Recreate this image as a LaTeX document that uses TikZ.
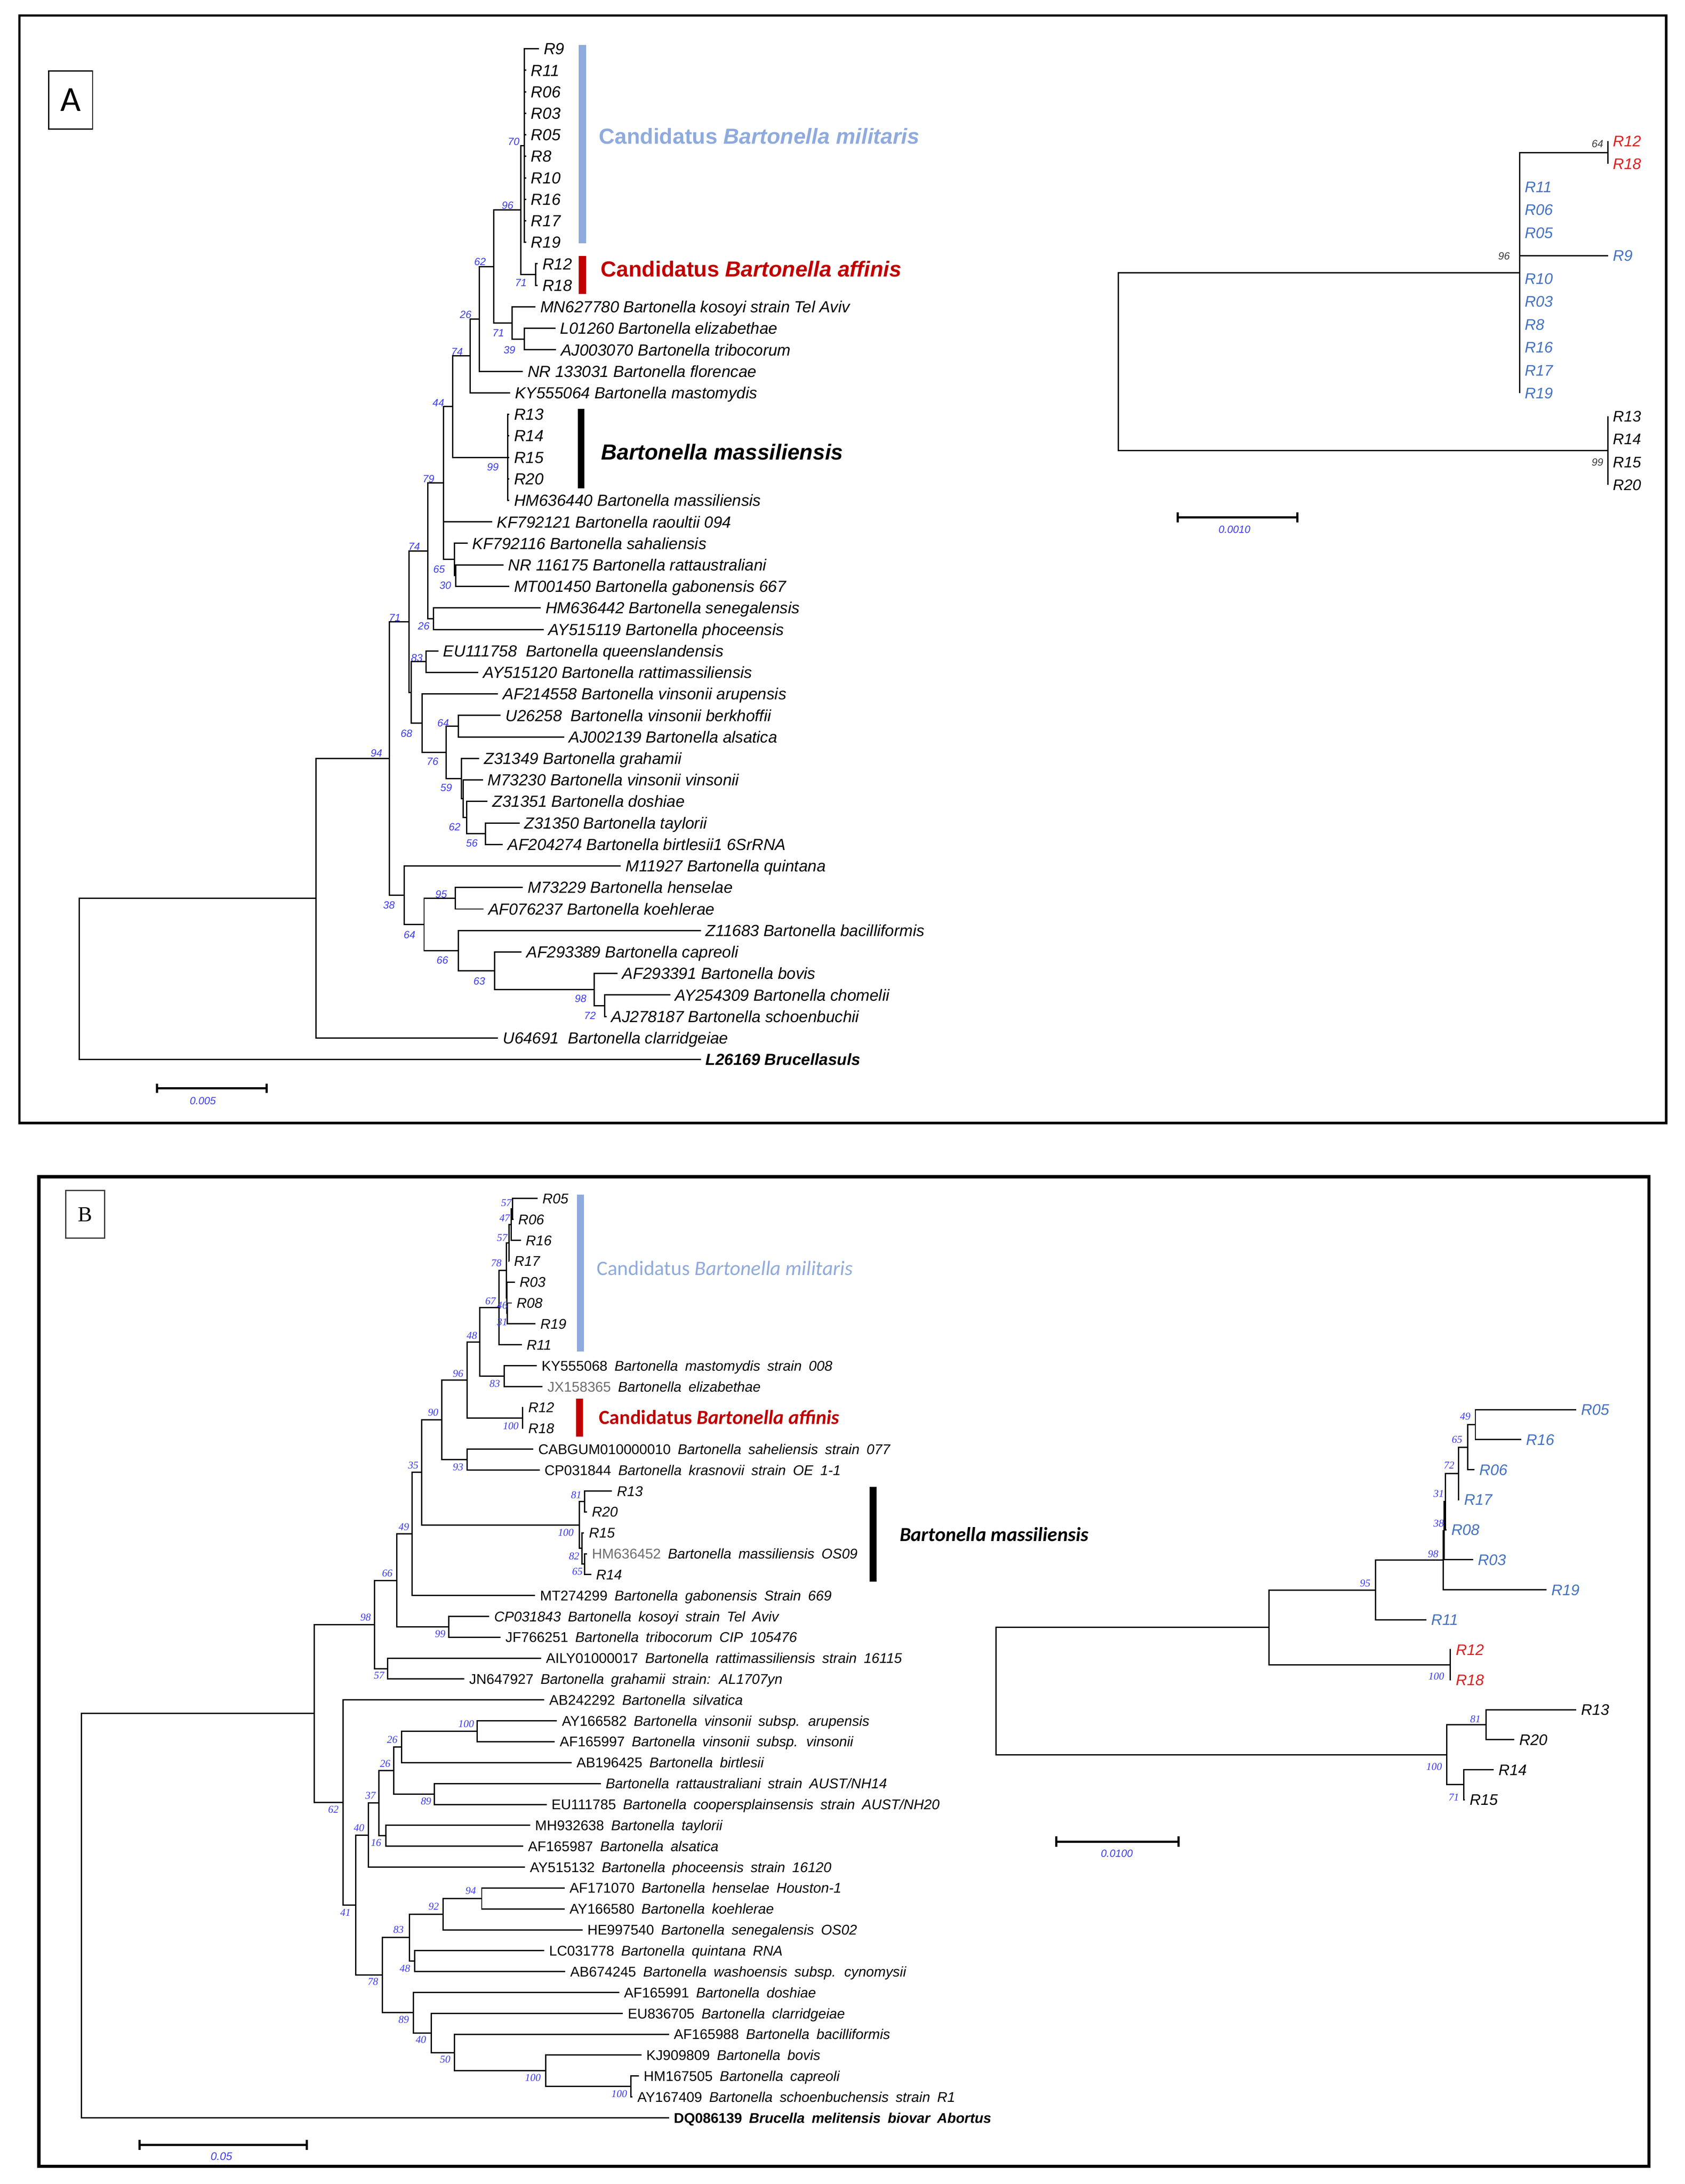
\documentclass[tikz,border=0pt]{standalone}
\usepackage{fontspec}
\setmainfont{Liberation Sans}
\newfontfamily\carl{Carlito}
\newfontfamily\lserif{Liberation Serif}
\newfontfamily\widesans[WordSpace=1.8]{Liberation Sans}
\definecolor{bsblue}{RGB}{60,60,250}
\definecolor{milblue}{RGB}{143,170,220}
\definecolor{affred}{RGB}{192,0,0}
\definecolor{rblue}{RGB}{68,114,196}
\definecolor{rred}{RGB}{225,30,30}
\definecolor{accgray}{RGB}{110,110,110}
\definecolor{bsgray}{RGB}{60,60,60}
\begin{document}
\begin{tikzpicture}[x=0.031855cm,y=-0.031855cm,
  tree/.style={line width=0.85pt,black},
  sbar/.style={line width=1.4pt,black},
  lfA/.style={anchor=west,inner xsep=3pt,inner ysep=0pt,text height=7.5pt,text depth=0pt,font=\fontsize{10.5}{12}\selectfont\itshape},
  lfR/.style={anchor=west,inner xsep=3pt,inner ysep=0pt,text height=7.2pt,text depth=0pt,font=\fontsize{10}{12}\selectfont\itshape},
  lfB/.style={anchor=west,inner xsep=3pt,inner ysep=0pt,text height=6.6pt,text depth=0pt,font=\widesans\fontsize{9.2}{11}\selectfont},
  lfBi/.style={lfB,font=\widesans\fontsize{9.2}{11}\selectfont\itshape},
  bsA/.style={inner sep=0pt,text height=4.9pt,text depth=0pt,font=\fontsize{6.8}{7}\selectfont\itshape,text=bsblue},
  bsB/.style={inner sep=0pt,text height=4.6pt,text depth=0pt,font=\lserif\fontsize{6.8}{7}\selectfont\itshape,text=bsblue},
  cladeA/.style={anchor=west,inner sep=0pt,text height=10.2pt,text depth=0pt,font=\fontsize{14.2}{16}\selectfont\bfseries},
  cladeB/.style={anchor=west,inner sep=0pt,text height=8.6pt,text depth=0pt,font=\carl\fontsize{13.4}{15}\selectfont}
]
\useasboundingbox (0,0) rectangle (1213,1572.1);
% ===== frames =====
\draw[line width=1.5pt] (14,11.2) rectangle (1199.5,808.4);
\draw[line width=2.1pt] (28,847) rectangle (1187,1559.3);
\node[draw,line width=0.7pt,minimum width=28.6pt,minimum height=37.9pt,inner sep=0pt,font=\carl\fontsize{23}{24}\selectfont] (labA) at (50.85,72) {A};
\node[draw=black!75,line width=0.9pt,minimum width=25.4pt,minimum height=31pt,inner sep=0pt,font=\lserif\fontsize{14}{15}\selectfont] (labB) at (61.25,874.15) {B};

% ===== Panel A left tree =====
\coordinate (aR) at (57,704.6);
\coordinate (aB) at (227.5,646.55);
\coordinate (a94) at (280.2,545.9);
\coordinate (a71) at (294.5,447.45);
\coordinate (a74b) at (308.0,396.5);
\coordinate (a79) at (319.2,347.7);
\coordinate (a44) at (325.9,292.7);
\coordinate (a74) at (338.6,256.2);
\coordinate (a26) at (345.1,229.6);
\coordinate (a62) at (355.5,191.85);
\coordinate (a96) at (375.0,151.2);
\coordinate (a70) at (377.6,104.75);
\coordinate (a71r) at (385.5,197.65);
\coordinate (a71k) at (368.5,232.5);
\coordinate (a39) at (377.6,244.05);
\coordinate (a99) at (365.5,329.25);
\coordinate (a65) at (327.3,402.7);
\coordinate (a30) at (328.2,414.35);
\coordinate (a26b) at (312.2,445.35);
\coordinate (aY) at (295.9,498.4);
\coordinate (a83) at (306.6,476.25);
\coordinate (a68) at (303.8,520.55);
\coordinate (a76) at (321.2,541.6);
\coordinate (a64) at (330.1,522.75);
\coordinate (a59) at (332.2,560.4);
\coordinate (aX) at (333.5,574.95);
\coordinate (a62b) at (336.0,588.5);
\coordinate (a56) at (349.4,600.15);
\coordinate (a38) at (291.0,644.35);
\coordinate (a64b) at (305.3,665.4);
\coordinate (a95) at (327.8,646.55);
\coordinate (a66) at (330.0,684.3);
\coordinate (a63) at (356.0,698.8);
\coordinate (a98) at (427.8,712.3);
\coordinate (a72) at (435.3,723.95);

\node[lfA] (A0) at (388.0,35.1) {R9};
\node[lfA] (A1) at (378.8,50.6) {R11};
\node[lfA] (A2) at (378.8,66.1) {R06};
\node[lfA] (A3) at (378.8,81.5) {R03};
\node[lfA] (A4) at (378.8,97.0) {R05};
\node[lfA] (A5) at (378.8,112.5) {R8};
\node[lfA] (A6) at (378.8,128.0) {R10};
\node[lfA] (A7) at (378.8,143.5) {R16};
\node[lfA] (A8) at (378.8,158.9) {R17};
\node[lfA] (A9) at (378.8,174.4) {R19};
\node[lfA] (A10) at (387.0,189.9) {R12};
\node[lfA] (A11) at (387.0,205.4) {R18};
\node[lfA] (A12) at (385.5,220.9) {MN627780 Bartonella kosoyi strain Tel Aviv};
\node[lfA] (A13) at (399.8,236.3) {L01260 Bartonella elizabethae};
\node[lfA] (A14) at (400.3,251.8) {AJ003070 Bartonella tribocorum};
\node[lfA] (A15) at (376.3,267.3) {NR 133031 Bartonella florencae};
\node[lfA] (A16) at (367.2,282.8) {KY555064 Bartonella mastomydis};
\node[lfA] (A17) at (366.6,298.3) {R13};
\node[lfA] (A18) at (366.6,313.7) {R14};
\node[lfA] (A19) at (366.6,329.2) {R15};
\node[lfA] (A20) at (366.6,344.7) {R20};
\node[lfA] (A21) at (366.6,360.2) {HM636440 Bartonella massiliensis};
\node[lfA] (A22) at (354.2,375.7) {KF792121 Bartonella raoultii 094};
\node[lfA] (A23) at (336.6,391.1) {KF792116 Bartonella sahaliensis};
\node[lfA] (A24) at (362.4,406.6) {NR 116175 Bartonella rattaustraliani};
\node[lfA] (A25) at (366.6,422.1) {MT001450 Bartonella gabonensis 667};
\node[lfA] (A26) at (389.3,437.6) {HM636442 Bartonella senegalensis};
\node[lfA] (A27) at (391.3,453.1) {AY515119 Bartonella phoceensis};
\node[lfA] (A28) at (315.6,468.5) {EU111758\ \ Bartonella queenslandensis};
\node[lfA] (A29) at (344.4,484.0) {AY515120 Bartonella rattimassiliensis};
\node[lfA] (A30) at (358.5,499.5) {AF214558 Bartonella vinsonii arupensis};
\node[lfA] (A31) at (360.4,515.0) {U26258\ \ Bartonella vinsonii berkhoffii};
\node[lfA] (A32) at (406.1,530.5) {AJ002139 Bartonella alsatica};
\node[lfA] (A33) at (345.0,545.9) {Z31349 Bartonella grahamii};
\node[lfA] (A34) at (347.6,561.4) {M73230 Bartonella vinsonii vinsonii};
\node[lfA] (A35) at (351.0,576.9) {Z31351 Bartonella doshiae};
\node[lfA] (A36) at (374.0,592.4) {Z31350 Bartonella taylorii};
\node[lfA] (A37) at (362.0,607.9) {AF204274 Bartonella birtlesii1 6SrRNA};
\node[lfA] (A38) at (446.9,623.3) {M11927 Bartonella quintana};
\node[lfA] (A39) at (376.5,638.8) {M73229 Bartonella henselae};
\node[lfA] (A40) at (348.0,654.3) {AF076237 Bartonella koehlerae};
\node[lfA] (A41) at (504.5,669.8) {Z11683 Bartonella bacilliformis};
\node[lfA] (A42) at (375.5,685.3) {AF293389 Bartonella capreoli};
\node[lfA] (A43) at (444.5,700.7) {AF293391 Bartonella bovis};
\node[lfA] (A44) at (482.5,716.2) {AY254309 Bartonella chomelii};
\node[lfA] (A45) at (436.6,731.7) {AJ278187 Bartonella schoenbuchii};
\node[lfA] (A46) at (358.5,747.2) {U64691\ \ Bartonella clarridgeiae};
\node[lfA,font=\fontsize{10.5}{12}\selectfont\bfseries\itshape] (A47) at (504.5,762.7) {L26169 Brucellasuls};

\foreach \p/\c in {aR/aB,aR/A47.west,aB/a94,aB/A46.west,a94/a71,a94/a38,a71/a74b,a71/aY,
  a74b/a79,a74b/a26b,a79/a44,a79/A22.west,a79/a65,a44/a74,a44/a99,a74/a26,a74/A16.west,
  a26/a62,a26/A15.west,a62/a96,a62/a71k,a96/a70,a96/a71r,
  a70/A0.west,a70/A1.west,a70/A2.west,a70/A3.west,a70/A4.west,a70/A5.west,a70/A6.west,a70/A7.west,a70/A8.west,a70/A9.west,
  a71r/A10.west,a71r/A11.west,a71k/A12.west,a71k/a39,a39/A13.west,a39/A14.west,
  a99/A17.west,a99/A18.west,a99/A19.west,a99/A20.west,a99/A21.west,
  a65/A23.west,a65/a30,a30/A24.west,a30/A25.west,a26b/A26.west,a26b/A27.west,
  aY/a83,aY/a68,a83/A28.west,a83/A29.west,a68/A30.west,a68/a76,a76/a64,a76/a59,
  a64/A31.west,a64/A32.west,a59/A33.west,a59/aX,aX/A34.west,aX/a62b,a62b/A35.west,a62b/a56,
  a56/A36.west,a56/A37.west,a38/A38.west,a38/a64b,a64b/a95,a64b/a66,a95/A39.west,a95/A40.west,
  a66/A41.west,a66/a63,a63/A42.west,a63/a98,a98/A43.west,a98/a72,a72/A44.west,a72/A45.west}
  \draw[tree] (\p) |- (\c);

\foreach \x/\y/\t [count=\k] in {369.8/101.7/70,365.4/147.7/96,345.6/188.2/62,375/203.5/71,335.2/226.4/26,
  358.7/239.6/71,366.7/251.7/39,329/253/74,315.6/290/44,354.8/336.2/99,308.5/344.7/79,298.2/393.3/74,
  316.1/409.5/65,320.6/421.3/30,284.2/444.7/71,305/450.4/26,300.1/473.5/83,319/520.4/64,292.6/527.9/68,
  271/542/94,311.4/548/76,321.2/567/59,327.3/595.3/62,339.7/606.7/56,317.6/643.7/95,280/651.5/38,
  294.8/672.8/64,318.5/691/66,345/706/63,418/718.6/98,424.7/731/72}
  \node[bsA] (bsa\k) at (\x,\y) {\t};

% clade marks panel A
\fill[milblue] (416.7,32.3) rectangle (421.9,175.0);
\fill[affred] (416.7,184.3) rectangle (421.9,211.5);
\fill[black] (415.9,294.2) rectangle (420.7,351.5);
\node[cladeA,text=milblue] (cA1) at (431,98.1) {Candidatus \textit{Bartonella militaris}};
\node[cladeA,text=affred] (cA2) at (432.3,193.6) {Candidatus \textit{Bartonella affinis}};
\node[cladeA,text=black] (cA3) at (432.7,325.4) {\textit{Bartonella massiliensis}};

% scale bar A left
\coordinate (sa1) at (112.9,783.5);
\coordinate (sa2) at (192,783.5);
\draw[sbar] (sa1) -- (sa2);
\draw[sbar] (sa1) ++(0,-3.3) -- ++(0,6.6);
\draw[sbar] (sa2) ++(0,-3.3) -- ++(0,6.6);
\node[bsA] (sla) at (146,792.3) {0.005};

% ===== Panel A right tree =====
\coordinate (rA) at (805,260.3);
\coordinate (r96) at (1094.1,196.4);
\coordinate (r64) at (1157.6,109.75);
\coordinate (r99) at (1157.6,324.25);
\node[lfR,text=rred] (RA0) at (1157.6,101.5) {R12};
\node[lfR,text=rred] (RA1) at (1157.6,118) {R18};
\node[lfR,text=rblue] (RA2) at (1094.1,134.5) {R11};
\node[lfR,text=rblue] (RA3) at (1094.1,151) {R06};
\node[lfR,text=rblue] (RA4) at (1094.1,167.5) {R05};
\node[lfR,text=rblue] (RA5) at (1157.6,184) {R9};
\node[lfR,text=rblue] (RA6) at (1094.1,200.5) {R10};
\node[lfR,text=rblue] (RA7) at (1094.1,217) {R03};
\node[lfR,text=rblue] (RA8) at (1094.1,233.5) {R8};
\node[lfR,text=rblue] (RA9) at (1094.1,250) {R16};
\node[lfR,text=rblue] (RA10) at (1094.1,266.5) {R17};
\node[lfR,text=rblue] (RA11) at (1094.1,283) {R19};
\node[lfR] (RA12) at (1157.6,299.5) {R13};
\node[lfR] (RA13) at (1157.6,316) {R14};
\node[lfR] (RA14) at (1157.6,332.5) {R15};
\node[lfR] (RA15) at (1157.6,349) {R20};
\foreach \p/\c in {rA/r96,rA/r99,r96/r64,r96/RA2.west,r96/RA3.west,r96/RA4.west,r96/RA5.west,
  r96/RA6.west,r96/RA7.west,r96/RA8.west,r96/RA9.west,r96/RA10.west,r96/RA11.west,
  r64/RA0.west,r64/RA1.west,r99/RA12.west,r99/RA13.west,r99/RA14.west,r99/RA15.west}
  \draw[tree] (\p) |- (\c);
\node[bsA,text=bsgray] (bsr1) at (1150,103.5) {64};
\node[bsA,text=bsgray] (bsr2) at (1082.7,184.2) {96};
\node[bsA,text=bsgray] (bsr3) at (1150,332.7) {99};
\coordinate (sr1) at (847.7,372.4);
\coordinate (sr2) at (934.1,372.4);
\draw[sbar] (sr1) -- (sr2);
\draw[sbar] (sr1) ++(0,-3.7) -- ++(0,7.4);
\draw[sbar] (sr2) ++(0,-3.7) -- ++(0,7.4);
\node[bsA] (slr) at (888.7,381) {0.0010};

% ===== Panel B left tree =====
\coordinate (bR) at (58.5,1378.95);
\coordinate (bX) at (226.3,1233.4);
\coordinate (b98) at (269.7,1169.35);
\coordinate (b66) at (285.6,1137.6);
\coordinate (b49) at (296.7,1104.2);
\coordinate (b35) at (303.6,1059.85);
\coordinate (b90) at (318.1,1022.0);
\coordinate (b96) at (336.3,993.25);
\coordinate (b48) at (345.3,965.9);
\coordinate (b67) at (359.3,941.2);
\coordinate (b78) at (364.5,914.4);
\coordinate (b57b) at (366.3,894.65);
\coordinate (b47) at (368.1,881.5);
\coordinate (b57a) at (369.1,870.2);
\coordinate (b46) at (365.0,934.15);
\coordinate (b31) at (365.3,945.4);
\coordinate (b83) at (363.0,990.55);
\coordinate (b100a) at (376.1,1020.6);
\coordinate (b93) at (336.3,1050.7);
\coordinate (b100b) at (417.2,1097.7);
\coordinate (b81) at (420.8,1080.8);
\coordinate (b82) at (419.0,1114.6);
\coordinate (b65) at (420.8,1125.9);
\coordinate (b99) at (323.2,1171.0);
\coordinate (b57) at (279.0,1201.1);
\coordinate (b62) at (246.9,1297.5);
\coordinate (b41) at (256.1,1371.35);
\coordinate (b40a) at (265.3,1320.95);
\coordinate (b37) at (272.7,1297.9);
\coordinate (b26b) at (283.5,1274.4);
\coordinate (b26a) at (289.2,1257.5);
\coordinate (b100c) at (343.6,1246.2);
\coordinate (b89a) at (312.7,1291.35);
\coordinate (b16) at (277.7,1321.4);
\coordinate (b78b) at (275.4,1421.75);
\coordinate (b83b) at (294.7,1394.7);
\coordinate (b92) at (319.1,1377.8);
\coordinate (b94) at (346.8,1366.55);
\coordinate (b48b) at (298.4,1411.65);
\coordinate (b89b) at (297.5,1448.8);
\coordinate (b40b) at (310.4,1463.4);
\coordinate (b50) at (327.0,1477.45);
\coordinate (b100d) at (392.8,1490.6);
\coordinate (b100e) at (454.1,1501.9);

\node[lfBi] (B0) at (387.0,862.7) {R05};
\node[lfBi] (B1) at (369.6,877.7) {R06};
\node[lfBi] (B2) at (375.0,892.8) {R16};
\node[lfBi] (B3) at (366.6,907.8) {R17};
\node[lfBi] (B4) at (370.6,922.9) {R03};
\node[lfBi] (B5) at (368.4,937.9) {R08};
\node[lfBi] (B6) at (385.5,952.9) {R19};
\node[lfBi] (B7) at (375.6,968.0) {R11};
\node[lfB] (B8) at (386.4,983.0) {KY555068 \textit{Bartonella mastomydis strain 008}};
\node[lfB] (B9) at (390.6,998.1) {\textcolor{accgray}{JX158365} \textit{Bartonella elizabethae}};
\node[lfBi] (B10) at (376.8,1013.1) {R12};
\node[lfBi] (B11) at (376.8,1028.1) {R18};
\node[lfB] (B12) at (384.0,1043.2) {CABGUM010000010 \textit{Bartonella saheliensis strain 077}};
\node[lfB] (B13) at (388.5,1058.2) {CP031844 \textit{Bartonella krasnovii strain OE 1-1}};
\node[lfBi] (B14) at (440.6,1073.3) {R13};
\node[lfBi] (B15) at (422.6,1088.3) {R20};
\node[lfBi] (B16) at (420.5,1103.3) {R15};
\node[lfB] (B17) at (422.6,1118.4) {\textcolor{accgray}{HM636452} \textit{Bartonella massiliensis OS09}};
\node[lfBi] (B18) at (425.6,1133.4) {R14};
\node[lfB] (B19) at (385.3,1148.5) {MT274299 \textit{Bartonella gabonensis Strain 669}};
\node[lfBi] (B20) at (352.3,1163.5) {CP031843 Bartonella kosoyi strain Tel Aviv};
\node[lfB] (B21) at (360.4,1178.5) {JF766251 \textit{Bartonella tribocorum CIP 105476}};
\node[lfB] (B22) at (389.5,1193.6) {AILY01000017 \textit{Bartonella rattimassiliensis strain 16115}};
\node[lfB] (B23) at (334.3,1208.6) {JN647927 \textit{Bartonella grahamii strain: AL1707yn}};
\node[lfB] (B24) at (391.9,1223.7) {AB242292 \textit{Bartonella silvatica}};
\node[lfB] (B25) at (401.0,1238.7) {AY166582 \textit{Bartonella vinsonii subsp. arupensis}};
\node[lfB] (B26) at (399.4,1253.7) {AF165997 \textit{Bartonella vinsonii subsp. vinsonii}};
\node[lfB] (B27) at (411.5,1268.8) {AB196425 \textit{Bartonella birtlesii}};
\node[lfBi] (B28) at (432.5,1283.8) {Bartonella rattaustraliani strain AUST/NH14};
\node[lfB] (B29) at (393.5,1298.9) {EU111785 \textit{Bartonella coopersplainsensis strain AUST/NH20}};
\node[lfB] (B30) at (381.7,1313.9) {MH932638 \textit{Bartonella taylorii}};
\node[lfB] (B31) at (376.6,1328.9) {AF165987 \textit{Bartonella alsatica}};
\node[lfB] (B32) at (378.0,1344.0) {AY515132 \textit{Bartonella phoceensis strain 16120}};
\node[lfB] (B33) at (406.5,1359.0) {AF171070 \textit{Bartonella henselae Houston-1}};
\node[lfB] (B34) at (406.5,1374.1) {AY166580 \textit{Bartonella koehlerae}};
\node[lfB] (B35) at (419.4,1389.1) {HE997540 \textit{Bartonella senegalensis OS02}};
\node[lfB] (B36) at (391.8,1404.1) {LC031778 \textit{Bartonella quintana RNA}};
\node[lfB] (B37) at (407.0,1419.2) {AB674245 \textit{Bartonella washoensis subsp. cynomysii}};
\node[lfB] (B38) at (445.7,1434.2) {AF165991 \textit{Bartonella doshiae}};
\node[lfB] (B39) at (448.5,1449.3) {EU836705 \textit{Bartonella clarridgeiae}};
\node[lfB] (B40) at (481.6,1464.3) {AF165988 \textit{Bartonella bacilliformis}};
\node[lfB] (B41) at (461.8,1479.3) {KJ909809 \textit{Bartonella bovis}};
\node[lfB] (B42) at (459.9,1494.4) {HM167505 \textit{Bartonella capreoli}};
\node[lfB] (B43) at (455.3,1509.4) {AY167409 \textit{Bartonella schoenbuchensis strain R1}};
\node[lfB,font=\widesans\fontsize{9.2}{11}\selectfont\bfseries] (B44) at (481.6,1524.5) {DQ086139 \textit{Brucella melitensis biovar Abortus}};

\foreach \p/\c in {bR/bX,bR/B44.west,bX/b98,bX/b62,b98/b66,b98/b57,b66/b49,b66/b99,b49/b35,b49/B19.west,
  b35/b90,b35/b100b,b90/b96,b90/b93,b96/b48,b96/b100a,b48/b67,b48/b83,b67/b78,b67/B7.west,
  b78/b57b,b78/b46,b57b/b47,b57b/B3.west,b47/b57a,b47/B2.west,b57a/B0.west,b57a/B1.west,
  b46/B4.west,b46/b31,b31/B5.west,b31/B6.west,b83/B8.west,b83/B9.west,b100a/B10.west,b100a/B11.west,
  b93/B12.west,b93/B13.west,b100b/b81,b100b/b82,b81/B14.west,b81/B15.west,b82/B16.west,b82/b65,
  b65/B17.west,b65/B18.west,b99/B20.west,b99/B21.west,b57/B22.west,b57/B23.west,
  b62/B24.west,b62/b41,b41/b40a,b41/b78b,b40a/b37,b40a/B32.west,b37/b26b,b37/b16,
  b26b/b26a,b26b/b89a,b26a/b100c,b26a/B27.west,b100c/B25.west,b100c/B26.west,
  b89a/B28.west,b89a/B29.west,b16/B30.west,b16/B31.west,b78b/b83b,b78b/b89b,
  b83b/b92,b83b/b48b,b92/b94,b92/B35.west,b94/B33.west,b94/B34.west,b48b/B36.west,b48b/B37.west,
  b89b/B38.west,b89b/b40b,b40b/B39.west,b40b/b50,b50/B40.west,b50/b100d,b100d/B41.west,b100d/b100e,
  b100e/B42.west,b100e/B43.west}
  \draw[tree] (\p) |- (\c);

\foreach \x/\y/\t [count=\k] in {364.5/865.8/57,363.3/876.6/47,361.5/891/57,357.3/909.1/78,353.1/936.4/67,
  361.5/939.6/46,361.5/951.6/31,339.7/961.2/48,329.8/988.7/96,356.2/996/83,367.7/1026.5/100,311.8/1016.7/90,
  329.8/1055.9/93,297.5/1054.7/35,414.8/1076/81,407.3/1103.2/100,413.3/1120/82,415.7/1131.2/65,
  290.7/1099.1/49,278.8/1132.3/66,263.2/1164.1/98,316.9/1176/99,272.9/1206/57,335.6/1240.7/100,
  282.4/1252.2/26,277.3/1269.3/26,306.7/1296.4/89,266.7/1292.3/37,240/1302.6/62,258.5/1315.5/40,
  270.7/1326.4/16,248.7/1376.6/41,338.9/1360.8/94,312.2/1372.4/92,286.9/1389/83,291.5/1417/48,
  268.5/1426.4/78,290.6/1453.8/89,303/1468/40,320.5/1482.4/50,383.6/1495.4/100,445.8/1507/100}
  \node[bsB] (bsb\k) at (\x,\y) {\t};

% clade marks panel B
\fill[milblue] (415.5,859.8) rectangle (420.3,972.7);
\fill[affred] (414.8,1006.8) rectangle (419.8,1034);
\fill[black] (625.9,1070.4) rectangle (631,1138.4);
\node[cladeB,text=milblue] (cB1) at (429.4,913.1) {Candidatus \textit{Bartonella militaris}};
\node[cladeB,text=affred,font=\carl\fontsize{13.1}{15}\selectfont\bfseries] (cB2) at (431,1020.4) {Candidatus \textit{Bartonella affinis}};
\node[cladeB,text=black,font=\carl\fontsize{13}{15}\selectfont\bfseries\itshape] (cB3) at (647.5,1104.8) {Bartonella massiliensis};

% scale bar B left
\coordinate (sb1) at (100.4,1544);
\coordinate (sb2) at (221,1544);
\draw[sbar] (sb1) -- (sb2);
\draw[sbar] (sb1) ++(0,-3.7) -- ++(0,7.4);
\draw[sbar] (sb2) ++(0,-3.7) -- ++(0,7.4);
\node[bsA,font=\fontsize{7.2}{8}\selectfont\itshape] (slb) at (159.4,1552.2) {0.05};

% ===== Panel B right tree =====
\coordinate (qR) at (716.9,1217.25);
\coordinate (qU) at (913.5,1171.4);
\coordinate (q95) at (990.4,1144.5);
\coordinate (q98) at (1039.0,1123.0);
\coordinate (q38) at (1039.7,1101.8);
\coordinate (q31) at (1040.5,1080.9);
\coordinate (q72) at (1049.9,1060.6);
\coordinate (q65) at (1056.5,1041.7);
\coordinate (q49) at (1062.1,1025.5);
\coordinate (q100a) at (1043.9,1198.3);
\coordinate (q100b) at (1041.6,1263.1);
\coordinate (q81) at (1069.7,1241.5);
\coordinate (q71) at (1053.8,1284.7);
\node[lfR,text=rblue] (Q0) at (1134.7,1014.7) {R05};
\node[lfR,text=rblue] (Q1) at (1095.1,1036.3) {R16};
\node[lfR,text=rblue] (Q2) at (1061.4,1057.9) {R06};
\node[lfR,text=rblue] (Q3) at (1050.5,1079.5) {R17};
\node[lfR,text=rblue] (Q4) at (1041.3,1101.1) {R08};
\node[lfR,text=rblue] (Q5) at (1060.4,1122.7) {R03};
\node[lfR,text=rblue] (Q6) at (1113.3,1144.3) {R19};
\node[lfR,text=rblue] (Q7) at (1026.8,1165.9) {R11};
\node[lfR,text=rred] (Q8) at (1044.5,1187.5) {R12};
\node[lfR,text=rred] (Q9) at (1044.5,1209.1) {R18};
\node[lfR] (Q10) at (1134.7,1230.7) {R13};
\node[lfR] (Q11) at (1090.2,1252.3) {R20};
\node[lfR] (Q12) at (1075.3,1273.9) {R14};
\node[lfR] (Q13) at (1054.5,1295.5) {R15};
\foreach \p/\c in {qR/qU,qR/q100b,qU/q95,qU/q100a,q95/q98,q95/Q7.west,q98/q38,q98/Q6.west,
  q38/q31,q38/Q5.west,q31/q72,q31/Q4.west,q72/q65,q72/Q3.west,q65/q49,q65/Q2.west,
  q49/Q0.west,q49/Q1.west,q100a/Q8.west,q100a/Q9.west,q100b/q81,q100b/q71,
  q81/Q10.west,q81/Q11.west,q71/Q12.west,q71/Q13.west}
  \draw[tree] (\p) |- (\c);
\foreach \x/\y/\t [count=\k] in {1054.8/1019.5/49,1048.9/1036/65,1043.2/1054.8/72,1035.7/1075.2/31,
  1035.7/1096.6/38,1031.7/1118.6/98,982.8/1139.5/95,1034/1206.7/100,1062.1/1237.5/81,
  1032.4/1271.7/100,1046.6/1293.7/71}
  \node[bsB] (bsq\k) at (\x,\y) {\t};
\coordinate (sq1) at (760.5,1325.6);
\coordinate (sq2) at (848.4,1325.6);
\draw[sbar] (sq1) -- (sq2);
\draw[sbar] (sq1) ++(0,-3.7) -- ++(0,7.4);
\draw[sbar] (sq2) ++(0,-3.7) -- ++(0,7.4);
\node[bsA] (slq) at (804,1334) {0.0100};
\end{tikzpicture}
\end{document}
